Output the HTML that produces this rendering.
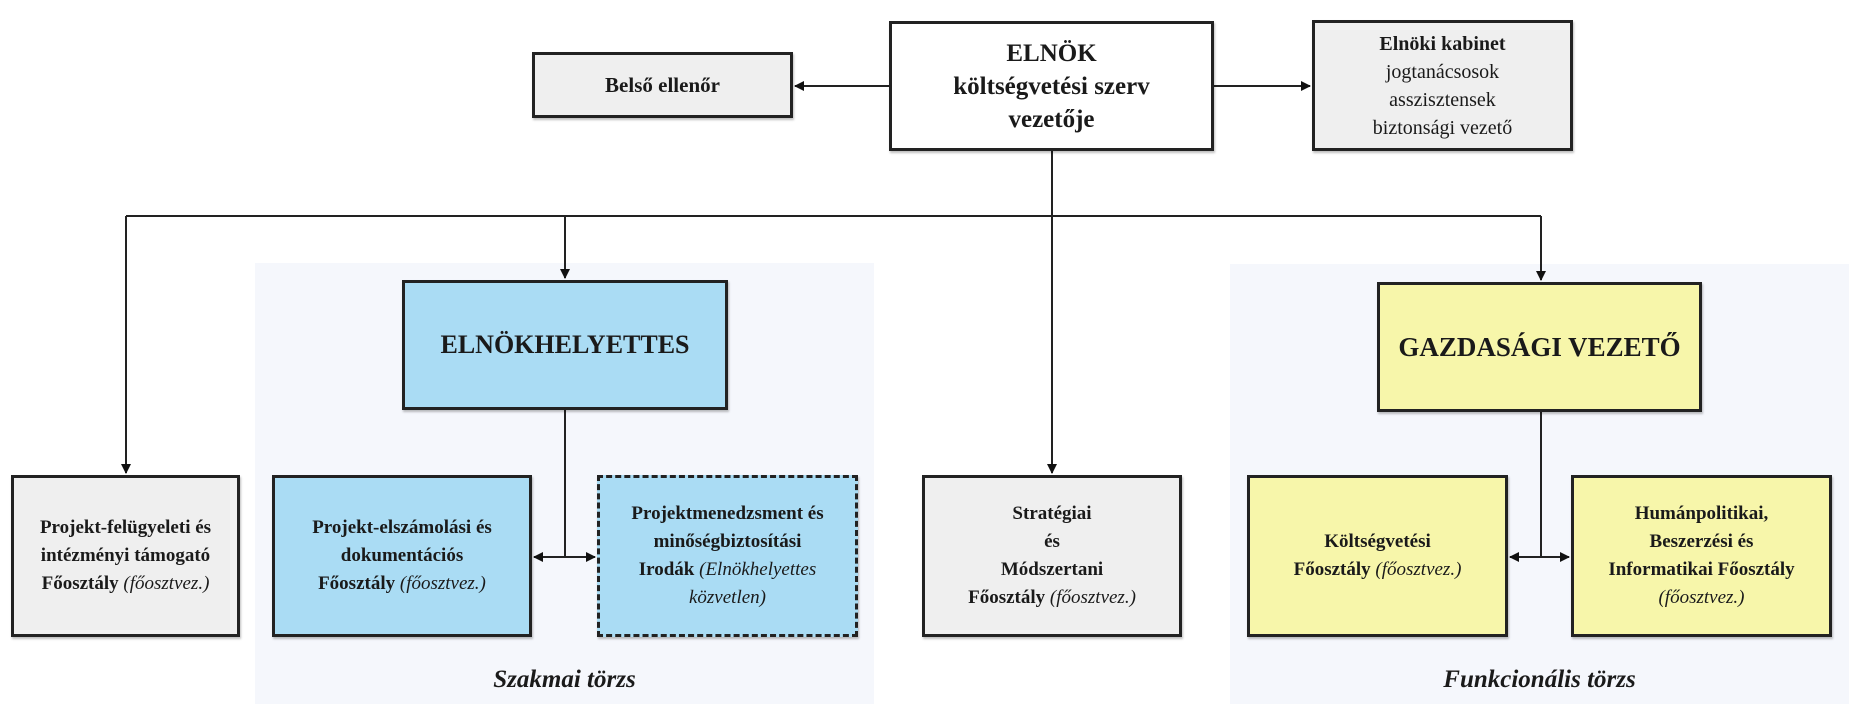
<!DOCTYPE html>
<html><head><meta charset="utf-8"><style>
html,body{margin:0;padding:0;background:#fff;}
body{width:1866px;height:714px;position:relative;overflow:hidden;font-family:"Liberation Serif",serif;color:#1a1a1a;}
.b{position:absolute;box-sizing:border-box;border:3px solid #222;display:flex;align-items:center;justify-content:center;text-align:center;font-weight:bold;box-shadow:1px 2px 2px rgba(0,0,0,.25);}
.g{background:#efefef}.w{background:#fff}.bl{background:#aadcf4}.y{background:#f7f6aa}
.p{position:absolute;background:#f5f7fc;}
.t{font-size:19px;line-height:28px;}
i{font-weight:normal;}
.lab{position:absolute;font-style:italic;font-weight:bold;font-size:25px;text-align:center;}
svg{position:absolute;left:0;top:0;}
</style></head><body>
<div class="p" style="left:255px;top:263px;width:619px;height:441px"></div>
<div class="p" style="left:1230px;top:264px;width:619px;height:440px"></div>

<svg width="1866" height="714">
<defs><marker id="a" markerWidth="10" markerHeight="10" refX="9" refY="5" orient="auto" markerUnits="userSpaceOnUse"><path d="M0,0 L10,5 L0,10 z" fill="#111"/></marker></defs>
<g stroke="#222" stroke-width="2" fill="none">
<line x1="1052" y1="151" x2="1052" y2="216"/>
<line x1="126" y1="216" x2="1541" y2="216"/>
<line x1="126" y1="216" x2="126" y2="473" marker-end="url(#a)"/>
<line x1="565" y1="216" x2="565" y2="278" marker-end="url(#a)"/>
<line x1="1052" y1="216" x2="1052" y2="473" marker-end="url(#a)"/>
<line x1="1541" y1="216" x2="1541" y2="280" marker-end="url(#a)"/>
<line x1="889" y1="86" x2="795" y2="86" marker-end="url(#a)"/>
<line x1="1214" y1="86" x2="1310" y2="86" marker-end="url(#a)"/>
<line x1="565" y1="410" x2="565" y2="557"/>
<line x1="565" y1="557" x2="534" y2="557" marker-end="url(#a)"/>
<line x1="565" y1="557" x2="595" y2="557" marker-end="url(#a)"/>
<line x1="1541" y1="412" x2="1541" y2="557"/>
<line x1="1541" y1="557" x2="1510" y2="557" marker-end="url(#a)"/>
<line x1="1541" y1="557" x2="1569" y2="557" marker-end="url(#a)"/>
</g></svg>

<div class="b g" style="left:532px;top:52px;width:261px;height:66px;font-size:21px">Belső ellenőr</div>
<div class="b w" style="left:889px;top:21px;width:325px;height:130px;font-size:25px;line-height:33px"><div>ELNÖK<br>költségvetési szerv<br>vezetője</div></div>
<div class="b g" style="left:1312px;top:20px;width:261px;height:131px;font-size:20px;line-height:28px;font-weight:normal"><div><b>Elnöki kabinet</b><br>jogtanácsosok<br>asszisztensek<br>biztonsági vezető</div></div>

<div class="b bl" style="left:402px;top:280px;width:326px;height:130px;font-size:26px">ELNÖKHELYETTES</div>
<div class="b y" style="left:1377px;top:282px;width:325px;height:130px;font-size:27px">GAZDASÁGI VEZETŐ</div>

<div class="b g t" style="left:11px;top:475px;width:229px;height:162px"><div style="white-space:nowrap">Projekt-felügyeleti és<br>intézményi támogató<br>Főosztály <i>(főosztvez.)</i></div></div>
<div class="b bl t" style="left:272px;top:475px;width:260px;height:162px"><div style="white-space:nowrap">Projekt-elszámolási és<br>dokumentációs<br>Főosztály <i>(főosztvez.)</i></div></div>
<div class="b bl t" style="left:597px;top:475px;width:261px;height:162px;border-style:dashed"><div style="white-space:nowrap">Projektmenedzsment és<br>minőségbiztosítási<br>Irodák <i>(Elnökhelyettes</i><br><i>közvetlen)</i></div></div>
<div class="b g t" style="left:922px;top:475px;width:260px;height:162px"><div style="white-space:nowrap">Stratégiai<br>és<br>Módszertani<br>Főosztály <i>(főosztvez.)</i></div></div>
<div class="b y t" style="left:1247px;top:475px;width:261px;height:162px"><div style="white-space:nowrap">Költségvetési<br>Főosztály <i>(főosztvez.)</i></div></div>
<div class="b y t" style="left:1571px;top:475px;width:261px;height:162px"><div style="white-space:nowrap">Humánpolitikai,<br>Beszerzési és<br>Informatikai Főosztály<br><i>(főosztvez.)</i></div></div>

<div class="lab" style="left:255px;width:619px;top:666px">Szakmai törzs</div>
<div class="lab" style="left:1230px;width:619px;top:666px">Funkcionális törzs</div>
</body></html>
